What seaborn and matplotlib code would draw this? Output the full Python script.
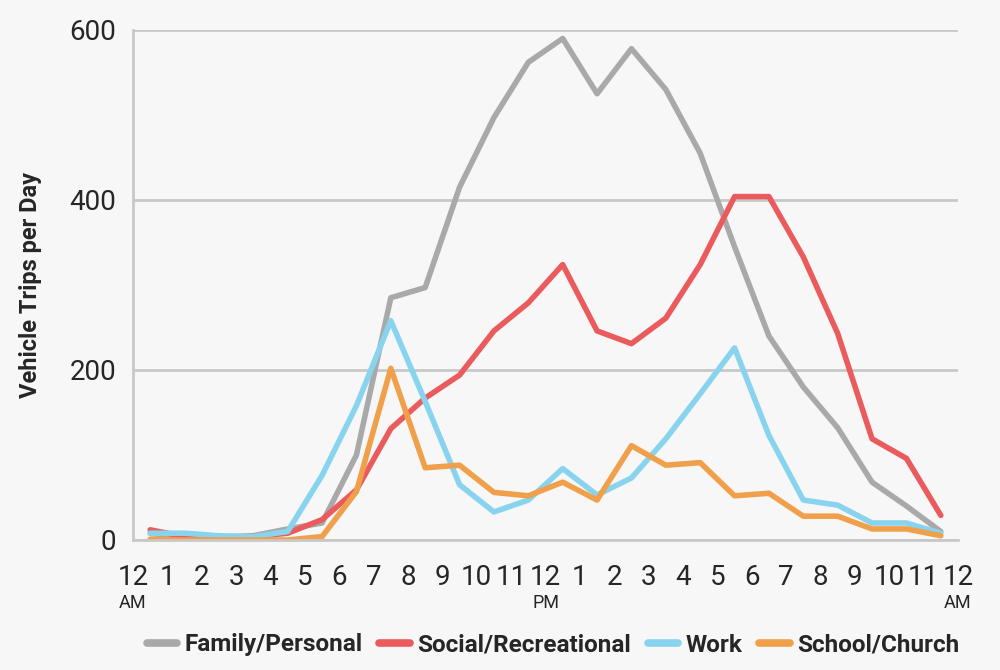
import pandas as pd
import seaborn as sns
import matplotlib.pyplot as plt
from matplotlib.lines import Line2D

# half-hour midpoints of each hour of the day
hours = [h + 0.5 for h in range(24)]

family_personal = [8, 3, 3, 5, 13, 20, 100, 285, 297, 415, 497, 562,
                   590, 525, 578, 530, 455, 345, 240, 180, 132, 68, 40, 10]
social_recreational = [12, 4, 4, 4, 8, 24, 59, 131, 167, 194, 246, 279,
                       324, 246, 231, 261, 324, 404, 404, 333, 243, 119, 96, 29]
work = [8, 8, 5, 4, 10, 76, 158, 258, 163, 65, 33, 47,
        84, 53, 73, 119, 172, 226, 123, 47, 41, 20, 20, 8]
school_church = [1, 0, 0, 0, 0, 4, 57, 202, 85, 88, 56, 52,
                 68, 47, 111, 88, 91, 52, 55, 28, 28, 13, 13, 5]

series_names = ["Family/Personal", "Social/Recreational", "Work", "School/Church"]
series_colors = ["#a9a9a9", "#ea5b5d", "#88d4ef", "#f0a04a"]

tick_labels = ["12", "1", "2", "3", "4", "5", "6", "7", "8", "9", "10", "11",
               "12", "1", "2", "3", "4", "5", "6", "7", "8", "9", "10", "11", "12"]

rows = []
for name, vals in zip(series_names, [family_personal, social_recreational, work, school_church]):
    for h, v in zip(hours, vals):
        rows.append({"hour": h, "trips": v, "purpose": name})
df = pd.DataFrame(rows)

bg = "#f7f7f7"
grid = "#c8c8c8"
sns.set_style("white", {"axes.facecolor": bg, "figure.facecolor": bg})
plt.rcParams["font.family"] = ["Roboto", "DejaVu Sans"]

fig = plt.figure(figsize=(10, 6.7), dpi=100)
ax = fig.add_axes([0.133, 1 - 540 / 670, 0.825, 510 / 670])

sns.lineplot(data=df, x="hour", y="trips", hue="purpose", hue_order=series_names,
             palette=series_colors, linewidth=4, ax=ax, legend=False)

ax.set_xlim(0, 24)
ax.set_ylim(0, 600)
ax.set_yticks([0, 200, 400, 600])
ax.set_xticks(range(25))
ax.set_xticklabels(tick_labels)
ax.yaxis.grid(True, color=grid, linewidth=2)
ax.set_axisbelow(True)

for s in ["top", "right"]:
    ax.spines[s].set_visible(False)
for s in ["left", "bottom"]:
    ax.spines[s].set_color(grid)
    ax.spines[s].set_linewidth(2)

ax.tick_params(axis="x", length=11, width=2, color=grid, labelsize=20, pad=6)
ax.tick_params(axis="y", length=0, labelsize=20, pad=12)
ax.set_xlabel("")
ax.set_ylabel("Vehicle Trips per Day", fontsize=17, fontweight="bold", labelpad=20)

trans = ax.get_xaxis_transform()
for x, t in [(0, "AM"), (12, "PM"), (24, "AM")]:
    ax.text(x, -0.105, t, transform=trans, ha="center", va="top", fontsize=13)

handles = [Line2D([], [], color=c, linewidth=5.5) for c in series_colors]
fig.legend(handles, series_names, loc="center", bbox_to_anchor=(0.553, 1 - 645 / 670),
           ncol=4, frameon=False, handlelength=1.25, handletextpad=0.3, columnspacing=0.7,
           prop={"size": 17.5, "weight": "bold"})

fig.savefig("out.png", dpi=100, facecolor=bg)
